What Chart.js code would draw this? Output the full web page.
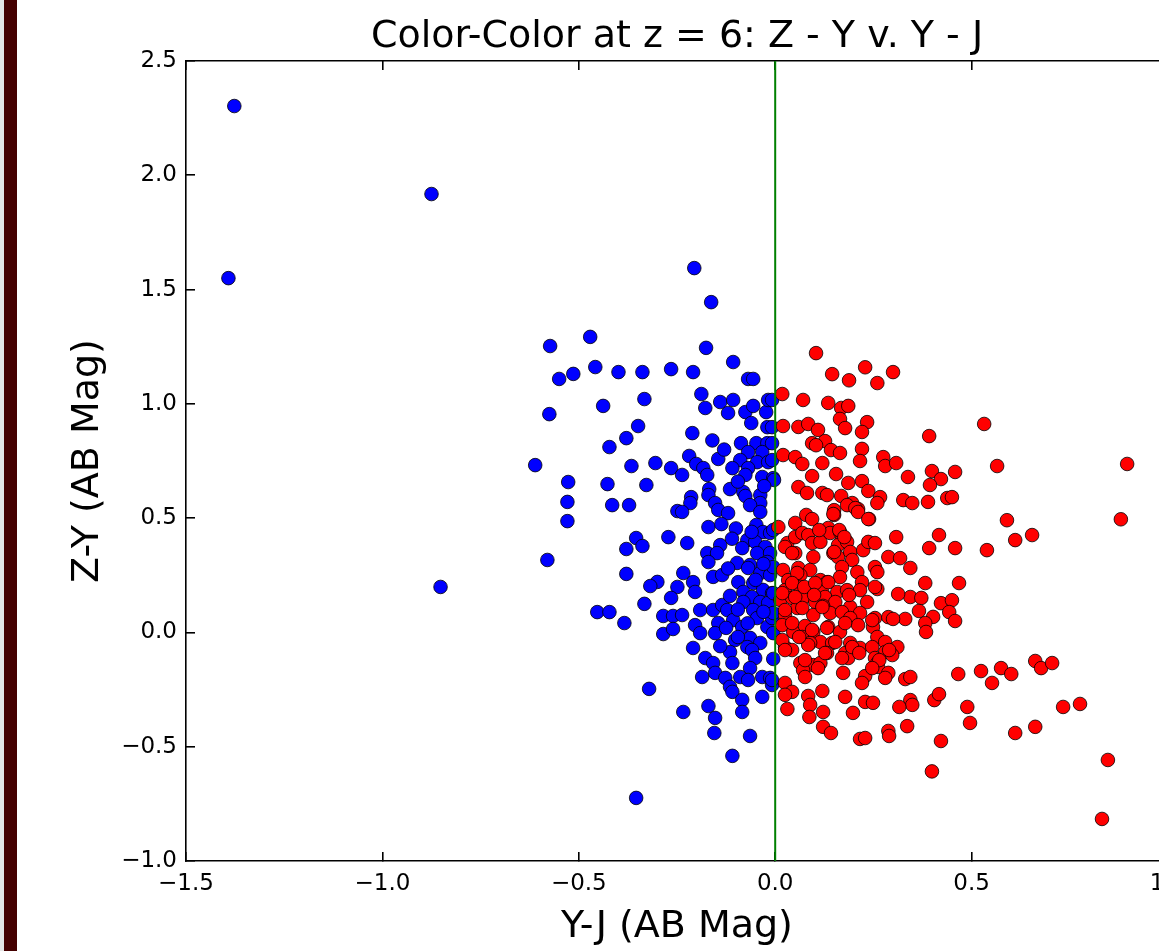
<!DOCTYPE html>
<html>
<head>
<meta charset="utf-8">
<script src="https://cdn.jsdelivr.net/npm/chart.js@4.4.1/dist/chart.umd.min.js"></script>
<style>
  html, body { margin: 0; padding: 0; overflow: hidden; background: #ffffff; width: 1159px; height: 951px; }
  #wrap { position: relative; width: 1159px; height: 951px; overflow: hidden; }
  #c { position: absolute; left: 0; top: 0; }
  #edge { position: absolute; left: 0; top: 0; width: 4px; height: 951px; background: #e4e4e4; }
  #stripe { position: absolute; left: 4px; top: 0; width: 13px; height: 951px; background: #440000; }
</style>
</head>
<body>
<div id="wrap">
  <canvas id="c" width="1354" height="951"></canvas>
  <div id="edge"></div>
  <div id="stripe"></div>
</div>
<script>
// ---- Data (Y-J, Z-Y in AB mag) ----
const chartTitle = 'Color-Color at z = 6: Z - Y v. Y - J';
const xTitle = 'Y-J (AB Mag)';
const yTitle = 'Z-Y (AB Mag)';
const xTicks = [-1.5, -1.0, -0.5, 0.0, 0.5, 1.0];
const yTicks = [-1.0, -0.5, 0.0, 0.5, 1.0, 1.5, 2.0, 2.5];
const xRange = [-1.5, 1.0];
const yRange = [-1.0, 2.5];
const cutYJ = 0.0;

// blue: Y-J < 0
const blueStars = [
[-1.377,2.303],[-1.392,1.550],[-0.875,1.918],[-0.852,0.199],[-0.206,1.594],[-0.163,1.445],[-0.354,-0.724],
[-0.573,1.253],[-0.471,1.293],[-0.550,1.109],[-0.514,1.131],[-0.458,1.161],[-0.399,1.139],[-0.338,1.139],
[-0.265,1.152],[-0.438,0.991],[-0.333,1.021],[-0.575,0.955],[-0.349,0.903],[-0.379,0.850],[-0.422,0.811],
[-0.611,0.732],[-0.366,0.728],[-0.305,0.741],[-0.265,0.719],[-0.176,1.245],[-0.107,1.183],[-0.209,1.139],
[-0.069,1.109],[-0.056,1.109],[-0.527,0.658],[-0.427,0.649],[-0.328,0.645],[-0.529,0.571],[-0.415,0.557],
[-0.372,0.557],[-0.529,0.487],[-0.580,0.317],[-0.249,0.531],[-0.272,0.417],[-0.354,0.413],[-0.338,0.378],
[-0.379,0.365],[-0.379,0.256],[-0.300,0.221],[-0.318,0.203],[-0.249,0.199],[-0.265,0.151],[-0.333,0.125],
[-0.453,0.089],[-0.422,0.089],[-0.384,0.041],[-0.285,0.072],[-0.260,0.072],[-0.285,-0.007],[-0.260,0.015],
[-0.321,-0.247],
[-0.188,1.043],[-0.178,0.982],[-0.140,1.008],[-0.107,1.017],[-0.120,0.960],[-0.076,0.964],[-0.056,0.991],
[-0.023,0.964],[-0.018,1.017],[-0.061,0.916],[-0.020,0.898],[-0.211,0.872],[-0.087,0.828],[-0.048,0.828],
[-0.020,0.828],[-0.069,0.789],[-0.033,0.789],[-0.089,0.754],[-0.046,0.745],[-0.018,0.745],[-0.069,0.719],
[-0.076,0.689],[-0.033,0.680],[-0.005,0.675],[-0.219,0.772],[-0.201,0.737],[-0.183,0.719],[-0.173,0.689],
[-0.145,0.759],[-0.109,0.719],[-0.237,0.689],[-0.168,0.627],[-0.170,0.601],[-0.115,0.627],[-0.081,0.614],
[-0.076,0.597],[-0.038,0.601],[-0.038,0.566],[-0.214,0.592],[-0.216,0.566],[-0.153,0.566],[-0.145,0.536],
[-0.120,0.522],[-0.064,0.557],[-0.038,0.527],[-0.237,0.527],[-0.170,0.461],[-0.137,0.474],[-0.048,0.470],
[-0.031,0.439],[-0.013,0.435],[-0.224,0.391],[-0.140,0.382],[-0.071,0.404],[-0.051,0.396],[-0.084,0.369],
[-0.173,0.347],[-0.148,0.347],[-0.025,0.374],[-0.046,0.347],[-0.013,0.347],[-0.170,0.308],[-0.097,0.304],
[-0.064,0.295],[-0.020,0.308],
[-0.069,0.282],[-0.038,0.260],[-0.013,0.251],[-0.234,0.260],[-0.209,0.220],[-0.204,0.177],[-0.158,0.243],
[-0.135,0.251],[-0.094,0.220],[-0.056,0.216],[-0.031,0.186],[-0.008,0.172],[-0.081,0.177],[-0.059,0.155],
[-0.081,0.133],[-0.038,0.133],[-0.018,0.129],[-0.237,0.076],[-0.191,0.098],[-0.158,0.098],[-0.135,0.120],
[-0.122,0.098],[-0.107,0.054],[-0.145,0.041],[-0.204,0.032],[-0.191,-0.003],[-0.153,-0.003],[-0.084,0.024],
[-0.056,0.098],[-0.046,0.063],[-0.020,0.024],[-0.008,0.063],[-0.064,-0.024],[-0.102,-0.033],[-0.038,-0.046],
[-0.071,-0.064],[-0.209,-0.068],[-0.178,-0.112],[-0.158,-0.134],[-0.115,-0.086],[-0.109,-0.134],[-0.059,-0.077],
[-0.051,-0.112],[-0.064,-0.156],[-0.186,-0.195],[-0.153,-0.177],[-0.127,-0.199],[-0.115,-0.238],[-0.089,-0.195],
[-0.069,-0.208],[-0.033,-0.195],[-0.013,-0.199],[-0.008,-0.230],[-0.109,-0.260],[-0.033,-0.282],[-0.084,-0.295],
[-0.234,-0.348],[-0.170,-0.322],[-0.153,-0.374],[-0.084,-0.348],[-0.155,-0.440],[-0.064,-0.453],[-0.109,-0.540],
[-0.008,1.017],[-0.008,0.898],[-0.008,0.828],[-0.008,0.754],[-0.003,0.667],[-0.005,0.448],[-0.005,0.286],
[-0.005,0.172],[-0.005,0.085],[-0.005,-0.003],[-0.005,-0.116],[-0.008,-0.208],
[-0.100,0.455],[-0.060,0.440],[-0.110,0.410],[-0.030,0.300],[-0.115,0.160],[-0.095,0.100],[-0.070,0.040],
[-0.125,0.020],[-0.030,0.090],[-0.140,-0.060],[-0.095,-0.020],[-0.120,0.280],[-0.050,0.230],[-0.028,0.640],
[-0.095,0.660],[-0.130,0.800],[-0.160,0.840]
];

// red: Y-J > 0
const redStars = [
[0.104,1.222],[0.145,1.130],[0.188,1.103],[0.229,1.160],[0.260,1.091],[0.300,1.139],[0.018,1.043],[0.071,1.017],
[0.135,1.004],[0.168,0.982],[0.186,0.991],[0.020,0.903],[0.059,0.899],[0.084,0.912],[0.109,0.886],[0.165,0.934],
[0.178,0.894],[0.234,0.920],[0.221,0.877],[0.094,0.828],[0.127,0.837],[0.104,0.819],[0.142,0.798],[0.165,0.785],
[0.221,0.803],[0.216,0.750],[0.020,0.776],[0.051,0.767],[0.069,0.737],[0.120,0.741],[0.094,0.684],[0.155,0.693],
[0.186,0.654],[0.221,0.662],[0.237,0.619],[0.275,0.767],[0.280,0.728],[0.308,0.741],[0.338,0.680],[0.399,0.706],
[0.422,0.671],[0.458,0.702],[0.394,0.645],[0.392,0.859],[0.532,0.912],[0.565,0.728],[0.059,0.636],[0.081,0.610],
[0.120,0.610],[0.132,0.601],[0.168,0.597],[0.196,0.566],[0.267,0.592],[0.260,0.566],[0.326,0.579],[0.349,0.566],
[0.389,0.571],[0.438,0.588],[0.450,0.592],[0.150,0.535],[0.150,0.514],[0.211,0.540],[0.239,0.496],
[0.896,0.737],[0.880,0.495],[0.590,0.491],[0.611,0.404],[0.654,0.426],[0.539,0.360],[0.417,0.426],[0.392,0.369],
[0.458,0.369],[0.468,0.216],[0.382,0.216],[0.344,0.155],[0.372,0.151],[0.422,0.128],[0.450,0.141],[0.366,0.094],
[0.402,0.068],[0.443,0.089],[0.458,0.050],[0.382,0.041],[0.384,0.002],[0.331,0.059],[0.331,-0.204],[0.344,-0.195],
[0.466,-0.182],[0.524,-0.169],[0.552,-0.221],[0.575,-0.156],[0.601,-0.182],[0.662,-0.125],[0.677,-0.156],
[0.705,-0.134],[0.344,-0.296],[0.405,-0.296],[0.417,-0.270],[0.489,-0.326],[0.496,-0.396],[0.336,-0.410],
[0.422,-0.475],[0.399,-0.608],[0.611,-0.440],[0.662,-0.413],[0.733,-0.326],[0.776,-0.313],[0.847,-0.558],
[0.832,-0.816],[0.349,-0.317],[0.316,-0.326],
[0.008,0.461],[0.051,0.479],[0.079,0.514],[0.094,0.496],[0.148,0.518],[0.183,0.557],[0.204,0.544],[0.211,0.527],
[0.237,0.496],[0.308,0.417],[0.031,0.391],[0.051,0.417],[0.069,0.435],[0.084,0.426],[0.094,0.391],[0.115,0.396],
[0.135,0.457],[0.140,0.435],[0.165,0.439],[0.170,0.404],[0.160,0.382],[0.183,0.396],[0.051,0.347],[0.097,0.330],
[0.148,0.347],[0.160,0.330],[0.191,0.352],[0.196,0.317],[0.224,0.360],[0.237,0.396],[0.254,0.391],[0.288,0.330],
[0.318,0.325],[0.344,0.282],[0.020,0.273],[0.059,0.282],[0.089,0.273],[0.064,0.251],[0.033,0.229],[0.115,0.229],
[0.132,0.220],[0.170,0.286],[0.209,0.264],[0.165,0.242],[0.221,0.220],[0.254,0.286],[0.260,0.264],[0.025,0.185],
[0.064,0.199],[0.094,0.194],[0.120,0.177],[0.135,0.220],[0.158,0.177],[0.183,0.185],[0.216,0.185],[0.260,0.190],
[0.313,0.168],[0.013,0.142],[0.043,0.151],[0.071,0.151],[0.102,0.133],[0.127,0.155],[0.153,0.133],[0.191,0.111],
[0.234,0.133],[0.056,0.107],[0.122,0.116],[0.140,0.085],[0.170,0.089],[0.025,0.076],[0.097,0.076],[0.216,0.085],
[0.254,0.063],[0.288,0.067],[0.300,0.059],[0.018,0.032],[0.046,0.002],[0.076,0.028],[0.097,0.002],[0.135,0.024],
[0.165,0.002],[0.191,0.063],[0.211,0.032],[0.249,0.024],[0.069,-0.020],[0.115,-0.042],[0.145,-0.046],[0.191,-0.046],
[0.216,-0.068],[0.260,-0.020],[0.280,-0.042],[0.311,-0.064],[0.025,-0.064],[0.089,-0.046],[0.178,-0.090],[0.280,-0.086],
[0.043,-0.077],[0.084,-0.055],[0.132,-0.090],[0.186,-0.112],[0.247,-0.064],[0.254,-0.112],[0.298,-0.099],[0.064,-0.134],
[0.097,-0.143],[0.071,-0.165],[0.115,-0.134],[0.109,-0.156],[0.076,-0.195],[0.173,-0.177],[0.229,-0.191],[0.221,-0.221],
[0.260,-0.134],[0.262,-0.151],[0.288,-0.177],[0.280,-0.199],[0.025,-0.221],[0.043,-0.260],[0.025,-0.273],[0.084,-0.278],
[0.089,-0.317],[0.120,-0.256],[0.178,-0.282],[0.229,-0.304],[0.249,-0.308],[0.031,-0.335],[0.087,-0.370],[0.122,-0.348],
[0.198,-0.352],[0.122,-0.413],[0.142,-0.440],[0.216,-0.466],[0.229,-0.462],[0.288,-0.431],[0.290,-0.453],
[0.025,0.374],[0.043,0.347],[0.112,0.448],[0.163,0.448],[0.176,0.417],[0.150,0.352],[0.056,0.260],[0.043,0.216],
[0.074,0.199],[0.102,0.216],[0.018,0.172],[0.051,0.155],[0.099,0.164],[0.188,0.164],[0.254,0.199],[0.025,0.098],
[0.069,0.107],[0.120,0.111],[0.043,0.041],[0.094,0.011],[0.132,0.020],[0.178,0.041],[0.247,0.054],[0.018,-0.033],
[0.061,-0.020],[0.153,-0.042],[0.196,-0.064],[0.214,-0.090],[0.025,-0.077],[0.076,-0.121],[0.127,-0.090],[0.170,-0.112],
[0.265,-0.121],[0.290,-0.077],[0.247,-0.156]
];

// ---- Chart ----
const FONT = 'DejaVu Sans';
const tickFmt = v => (v < 0 ? '\u2212' : '') + Math.abs(v).toFixed(1);
const spine = '#000000';
const spineW = 1.6;
const toPts = arr => arr.map(p => ({x: p[0], y: p[1]}));

new Chart(document.getElementById('c'), {
  type: 'scatter',
  data: {
    datasets: [
      {
        type: 'line',
        label: 'cut',
        data: [{x: cutYJ, y: yRange[0]}, {x: cutYJ, y: yRange[1]}],
        borderColor: '#008000',
        borderWidth: 2,
        pointRadius: 0,
        fill: false,
        order: 0
      },
      {
        label: 'red',
        data: toPts(redStars),
        backgroundColor: '#ff0000',
        borderColor: '#000000',
        borderWidth: 0.8,
        pointRadius: 6.8,
        order: 1
      },
      {
        label: 'blue',
        data: toPts(blueStars),
        backgroundColor: '#0000ff',
        borderColor: '#000000',
        borderWidth: 0.8,
        pointRadius: 6.8,
        order: 2
      }
    ]
  },
  options: {
    responsive: false,
    devicePixelRatio: 1,
    animation: false,
    layout: { padding: 0 },
    plugins: {
      legend: { display: false },
      tooltip: { enabled: false },
      title: {
        display: true,
        text: chartTitle,
        color: '#000',
        font: { family: FONT, size: 38, weight: 'normal', lineHeight: 1 },
        padding: { top: 18, bottom: 5 }
      }
    },
    scales: {
      x: {
        type: 'linear', position: 'bottom', min: xRange[0], max: xRange[1],
        afterBuildTicks: s => { s.ticks = xTicks.map(v => ({value: v})); },
        afterFit: s => { s.height = 90; },
        ticks: { color: '#000', font: { family: FONT, size: 23 }, padding: 18, maxRotation: 0, autoSkip: false, callback: tickFmt },
        grid: { drawOnChartArea: false, drawTicks: true, tickLength: -9, color: spine, tickColor: spine, lineWidth: spineW, tickWidth: spineW },
        border: { display: true, color: spine, width: spineW },
        title: { display: true, text: xTitle, color: '#000', font: { family: FONT, size: 38, lineHeight: 1 }, padding: { top: 0, bottom: 5 } }
      },
      y: {
        type: 'linear', position: 'left', min: yRange[0], max: yRange[1],
        afterBuildTicks: s => { s.ticks = yTicks.map(v => ({value: v})); },
        afterFit: s => { s.width = 186; },
        ticks: { color: '#000', font: { family: FONT, size: 23 }, padding: 18, autoSkip: false, callback: tickFmt },
        grid: { drawOnChartArea: false, drawTicks: true, tickLength: -9, color: spine, tickColor: spine, lineWidth: spineW, tickWidth: spineW },
        border: { display: true, color: spine, width: spineW },
        title: { display: true, text: yTitle, color: '#000', font: { family: FONT, size: 38, lineHeight: 1 }, padding: { top: 69, bottom: 0 } }
      },
      xTop: {
        type: 'linear', position: 'top', min: xRange[0], max: xRange[1],
        afterBuildTicks: s => { s.ticks = xTicks.map(v => ({value: v})); },
        afterFit: s => { s.height = 0; },
        ticks: { display: false },
        grid: { drawOnChartArea: false, drawTicks: true, tickLength: -9, color: spine, tickColor: spine, lineWidth: spineW, tickWidth: spineW },
        border: { display: true, color: spine, width: spineW }
      },
      yRight: {
        type: 'linear', position: 'right', min: yRange[0], max: yRange[1],
        afterBuildTicks: s => { s.ticks = yTicks.map(v => ({value: v})); },
        afterFit: s => { s.width = 186; },
        ticks: { display: false },
        grid: { drawOnChartArea: false, drawTicks: true, tickLength: -9, color: spine, tickColor: spine, lineWidth: spineW, tickWidth: spineW },
        border: { display: true, color: spine, width: spineW }
      }
    }
  }
});
</script>
</body>
</html>
